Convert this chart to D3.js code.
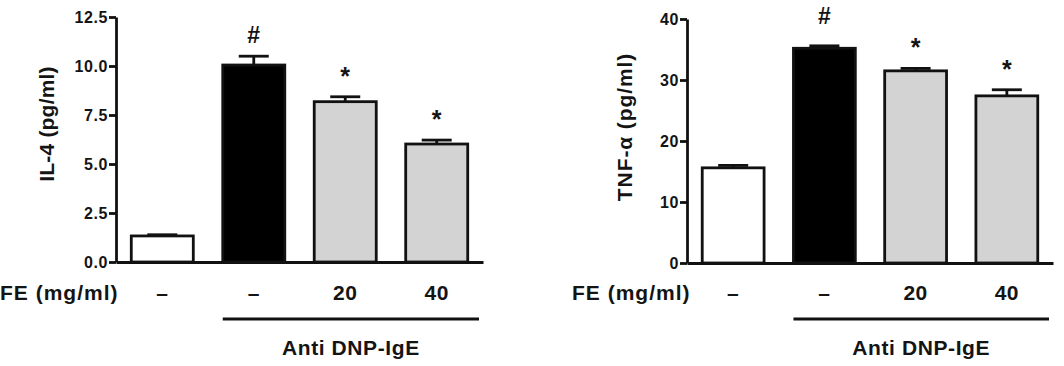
<!DOCTYPE html>
<html><head><meta charset="utf-8">
<script src="https://cdn.jsdelivr.net/npm/d3@7"></script>
<style>
body{margin:0;background:#fff}
text{font-family:"Liberation Sans",Arial,sans-serif;font-weight:bold;fill:#141414}
</style>
</head><body>
<svg id="c" width="1064" height="366"></svg>
<script>
const categories = ["Control", "Anti DNP-IgE", "FE 20", "FE 40"];
const feLabels = ["–", "–", "20", "40"];
const il4Values = [1.33, 10.05, 8.18, 6.02];
const il4Errors = [0.06, 0.45, 0.25, 0.2];
const il4Ticks = [0, 2.5, 5, 7.5, 10, 12.5];
const tnfValues = [15.6, 35.2, 31.5, 27.4];
const tnfErrors = [0.4, 0.4, 0.4, 1.0];
const tnfTicks = [0, 10, 20, 30, 40];
const marks = ["", "#", "*", "*"];
const barFills = ["#ffffff", "#000000", "#d3d3d3", "#d3d3d3"];

const svg = d3.select("#c");

function panel(opt) {
  const g = svg.append("g");
  const x = d3.scaleBand().domain(categories).range([opt.x0, opt.x1])
    .paddingInner(0.322).paddingOuter(0.167);
  const y = d3.scaleLinear().domain([0, opt.yMax]).range([opt.yBottom, opt.yTop]);
  const data = categories.map((c, i) => ({c, v: opt.values[i], e: opt.errors[i], f: barFills[i], m: marks[i], l: feLabels[i]}));
  const cx = d => x(d.c) + x.bandwidth() / 2;

  // error bars
  const eb = g.append("g").attr("stroke", "#111").attr("stroke-width", 2.8);
  eb.selectAll("line.v").data(data).join("line")
    .attr("x1", cx).attr("x2", cx)
    .attr("y1", d => y(d.v)).attr("y2", d => y(d.v + d.e));
  eb.selectAll("line.c").data(data).join("line")
    .attr("x1", d => cx(d) - 15).attr("x2", d => cx(d) + 15)
    .attr("y1", d => y(d.v + d.e)).attr("y2", d => y(d.v + d.e));

  // bars
  g.append("g").selectAll("rect").data(data).join("rect")
    .attr("x", d => x(d.c)).attr("width", x.bandwidth())
    .attr("y", d => y(d.v)).attr("height", d => y(0) - y(d.v))
    .attr("fill", d => d.f).attr("stroke", "#111").attr("stroke-width", 2.8);

  // significance marks
  g.append("g").selectAll("text").data(data).join("text")
    .attr("x", cx)
    .attr("y", d => y(d.v + d.e) - (d.m === "#" ? opt.hashGap : 12))
    .attr("text-anchor", "middle")
    .style("font-size", d => d.m === "#" ? "23px" : "25px")
    .text(d => d.m);

  // y axis
  const ya = g.append("g").attr("transform", `translate(${opt.x0},0)`)
    .call(d3.axisLeft(y).tickValues(opt.ticks).tickFormat(opt.fmt).tickSize(7).tickSizeOuter(0).tickPadding(1));
  ya.selectAll("path,line").attr("stroke", "#111").attr("stroke-width", 2.8);
  ya.selectAll("text").style("font-size", "16px").style("letter-spacing", "0.6px")
    .attr("fill", "#141414").attr("dy", "0.36em");

  // x axis
  const xa = g.append("g").attr("transform", `translate(0,${y(0)})`)
    .call(d3.axisBottom(x).tickSize(0).tickSizeOuter(0).tickFormat(""));
  xa.select("path").attr("stroke", "#111").attr("stroke-width", 2.8);

  // FE labels
  g.append("text").attr("x", opt.feX).attr("y", 300).style("font-size", "21px")
    .style("letter-spacing", "1px").text("FE (mg/ml)");
  g.append("g").selectAll("text").data(data).join("text")
    .attr("x", cx).attr("y", 300)
    .attr("text-anchor", "middle").style("font-size", "21px").style("letter-spacing", "0.5px").text(d => d.l);

  // group line
  const gx0 = x(categories[1]), gx1 = x.range()[1] - 4;
  g.append("line").attr("x1", gx0).attr("x2", gx1).attr("y1", 319).attr("y2", 319)
    .attr("stroke", "#111").attr("stroke-width", 3);
  g.append("text").attr("x", (gx0 + gx1) / 2).attr("y", 355)
    .attr("text-anchor", "middle").style("font-size", "21px").style("letter-spacing", "0.6px").text("Anti DNP-IgE");

  // y label
  g.append("text").attr("transform", `translate(${opt.labelX},${opt.labelY}) rotate(-90)`)
    .attr("text-anchor", "middle").style("font-size", "21px").style("letter-spacing", opt.labelSpacing)
    .text(opt.ylabel);
}

panel({x0: 116, x1: 483, yBottom: 262, yTop: 17, yMax: 12.5, values: il4Values, errors: il4Errors,
  ticks: il4Ticks, fmt: d3.format(".1f"), feX: 0, ylabel: "IL-4 (pg/ml)", labelX: 54, labelY: 124,
  labelSpacing: "0.2px", hashGap: 13});
panel({x0: 687, x1: 1053, yBottom: 263, yTop: 19, yMax: 40, values: tnfValues, errors: tnfErrors,
  ticks: tnfTicks, fmt: d3.format("d"), feX: 572, ylabel: "TNF-α (pg/ml)", labelX: 632, labelY: 127,
  labelSpacing: "0.9px", hashGap: 22});
</script>
</body></html>
